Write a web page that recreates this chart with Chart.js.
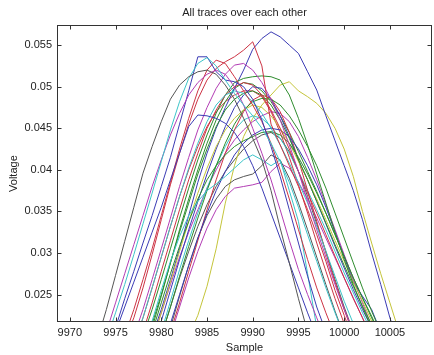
<!DOCTYPE html>
<html>
<head>
<meta charset="utf-8">
<script src="https://cdn.jsdelivr.net/npm/chart.js@4.4.1/dist/chart.umd.min.js"></script>
<style>
  body { margin: 0; background: #fff; }
</style>
</head>
<body>
<canvas id="myChart" width="434" height="355"></canvas>
<script>
// tick positions
const xTicks = [9970, 9975, 9980, 9985, 9990, 9995, 10000, 10005];
const yTicks = [0.025, 0.03, 0.035, 0.04, 0.045, 0.05, 0.055];

// traces, one value per sample, starting at the sample in traceStarts
const k1 = [0.0195, 0.0232, 0.0273, 0.0314, 0.0355, 0.0396, 0.0428, 0.0458, 0.0485, 0.0502, 0.0512, 0.0518, 0.0520, 0.0515, 0.0502, 0.0485, 0.0462, 0.0438, 0.0412, 0.0375, 0.0330, 0.0288, 0.0245, 0.0205];
const c1 = [0.0195, 0.0228, 0.0262, 0.0298, 0.0335, 0.0372, 0.0410, 0.0448, 0.0482, 0.0510, 0.0528, 0.0535, 0.0525, 0.0508, 0.0492, 0.0478, 0.0465, 0.0450, 0.0432, 0.0410, 0.0385, 0.0355, 0.0322, 0.0290, 0.0258, 0.0228, 0.0200];
const m1 = [0.0205, 0.0240, 0.0275, 0.0310, 0.0345, 0.0380, 0.0412, 0.0442, 0.0468, 0.0490, 0.0505, 0.0515, 0.0520, 0.0515, 0.0500, 0.0478, 0.0450, 0.0420, 0.0388, 0.0352, 0.0315, 0.0280, 0.0250, 0.0222, 0.0195];
const b1 = [0.0210, 0.0245, 0.0278, 0.0312, 0.0345, 0.0380, 0.0415, 0.0455, 0.0495, 0.0536, 0.0536, 0.0518, 0.0508, 0.0506, 0.0500, 0.0485, 0.0460, 0.0428, 0.0392, 0.0352, 0.0312, 0.0272, 0.0235, 0.0205];
const b2 = [0.0205, 0.0235, 0.0265, 0.0295, 0.0325, 0.0355, 0.0388, 0.0420, 0.0452, 0.0466, 0.0465, 0.0462, 0.0456, 0.0445, 0.0428, 0.0405, 0.0378, 0.0348, 0.0318, 0.0288, 0.0258, 0.0228, 0.0200];
const r1 = [0.0200, 0.0232, 0.0268, 0.0305, 0.0345, 0.0385, 0.0425, 0.0462, 0.0495, 0.0520, 0.0532, 0.0528, 0.0512, 0.0495, 0.0478, 0.0458, 0.0432, 0.0400, 0.0365, 0.0328, 0.0292, 0.0258, 0.0228, 0.0200];
const r2 = [0.0195, 0.0222, 0.0258, 0.0298, 0.0340, 0.0382, 0.0420, 0.0455, 0.0485, 0.0508, 0.0522, 0.0530, 0.0536, 0.0544, 0.0554, 0.0525, 0.0455, 0.0430, 0.0405, 0.0380, 0.0352, 0.0322, 0.0290, 0.0255, 0.0225, 0.0195];
const m2 = [0.0200, 0.0232, 0.0268, 0.0305, 0.0342, 0.0380, 0.0415, 0.0448, 0.0475, 0.0498, 0.0515, 0.0526, 0.0528, 0.0520, 0.0505, 0.0485, 0.0460, 0.0430, 0.0398, 0.0362, 0.0328, 0.0295, 0.0262, 0.0232, 0.0205];
const c2 = [0.0190, 0.0222, 0.0258, 0.0295, 0.0332, 0.0368, 0.0402, 0.0432, 0.0458, 0.0478, 0.0490, 0.0495, 0.0492, 0.0482, 0.0468, 0.0450, 0.0430, 0.0408, 0.0385, 0.0360, 0.0332, 0.0302, 0.0272, 0.0242, 0.0215, 0.0190];
const r3 = [0.0205, 0.0240, 0.0278, 0.0315, 0.0352, 0.0388, 0.0420, 0.0450, 0.0472, 0.0490, 0.0500, 0.0505, 0.0502, 0.0490, 0.0472, 0.0450, 0.0425, 0.0398, 0.0372, 0.0348, 0.0322, 0.0296, 0.0270, 0.0245, 0.0222, 0.0198];
const g1 = [0.0200, 0.0232, 0.0268, 0.0305, 0.0342, 0.0378, 0.0412, 0.0442, 0.0468, 0.0490, 0.0505, 0.0510, 0.0512, 0.0513, 0.0512, 0.0508, 0.0490, 0.0462, 0.0430, 0.0395, 0.0360, 0.0325, 0.0292, 0.0262, 0.0235, 0.0210, 0.0190];
const c3 = [0.0218, 0.0255, 0.0290, 0.0320, 0.0345, 0.0362, 0.0375, 0.0383, 0.0392, 0.0402, 0.0412, 0.0418, 0.0412, 0.0405, 0.0412, 0.0375, 0.0338, 0.0275, 0.0210];
const g2 = [0.0215, 0.0250, 0.0288, 0.0325, 0.0360, 0.0395, 0.0425, 0.0452, 0.0472, 0.0485, 0.0492, 0.0495, 0.0490, 0.0478, 0.0460, 0.0438, 0.0412, 0.0388, 0.0362, 0.0336, 0.0310, 0.0285, 0.0260, 0.0236, 0.0214, 0.0192];
const g3 = [0.0205, 0.0240, 0.0275, 0.0308, 0.0338, 0.0365, 0.0388, 0.0405, 0.0418, 0.0428, 0.0435, 0.0440, 0.0445, 0.0446, 0.0442, 0.0432, 0.0415, 0.0395, 0.0372, 0.0348, 0.0322, 0.0296, 0.0270, 0.0246, 0.0224, 0.0200];
const y2 = [0.0195, 0.0228, 0.0265, 0.0302, 0.0338, 0.0372, 0.0402, 0.0428, 0.0448, 0.0462, 0.0472, 0.0478, 0.0475, 0.0465, 0.0450, 0.0432, 0.0410, 0.0388, 0.0365, 0.0340, 0.0315, 0.0290, 0.0265, 0.0242, 0.0218, 0.0195];
const b3 = [0.0200, 0.0232, 0.0268, 0.0305, 0.0345, 0.0385, 0.0420, 0.0450, 0.0475, 0.0498, 0.0520, 0.0545, 0.0558, 0.0566, 0.0560, 0.0550, 0.0540, 0.0518, 0.0496, 0.0465, 0.0435, 0.0405, 0.0375, 0.0340, 0.0300, 0.0262, 0.0222, 0.0190];
const b4 = [0.0218, 0.0255, 0.0292, 0.0328, 0.0362, 0.0395, 0.0425, 0.0452, 0.0475, 0.0490, 0.0500, 0.0498, 0.0485, 0.0465, 0.0440, 0.0412, 0.0388, 0.0362, 0.0335, 0.0308, 0.0282, 0.0256, 0.0232, 0.0210, 0.0190];
const g4 = [0.0200, 0.0235, 0.0272, 0.0308, 0.0342, 0.0375, 0.0405, 0.0432, 0.0455, 0.0472, 0.0482, 0.0486, 0.0485, 0.0478, 0.0465, 0.0448, 0.0428, 0.0405, 0.0378, 0.0348, 0.0318, 0.0288, 0.0258, 0.0230, 0.0205];
const b5 = [0.0215, 0.0250, 0.0285, 0.0318, 0.0348, 0.0375, 0.0398, 0.0418, 0.0432, 0.0442, 0.0448, 0.0450, 0.0448, 0.0440, 0.0425, 0.0405, 0.0382, 0.0355, 0.0325, 0.0295, 0.0265, 0.0248, 0.0232, 0.0205];
const r4 = [0.0205, 0.0240, 0.0278, 0.0315, 0.0352, 0.0388, 0.0420, 0.0448, 0.0470, 0.0484, 0.0490, 0.0486, 0.0470, 0.0445, 0.0412, 0.0375, 0.0338, 0.0300, 0.0265, 0.0232, 0.0202];
const k2 = [0.0210, 0.0248, 0.0285, 0.0318, 0.0345, 0.0365, 0.0380, 0.0388, 0.0392, 0.0395, 0.0405, 0.0418, 0.0412, 0.0390, 0.0360, 0.0328, 0.0295, 0.0262, 0.0230, 0.0200];
const m3 = [0.0200, 0.0235, 0.0270, 0.0302, 0.0330, 0.0352, 0.0368, 0.0378, 0.0380, 0.0382, 0.0385, 0.0398, 0.0408, 0.0402, 0.0385, 0.0365, 0.0342, 0.0318, 0.0294, 0.0270, 0.0246, 0.0222, 0.0198];
const y1 = [0.0200, 0.0225, 0.0260, 0.0305, 0.0360, 0.0405, 0.0440, 0.0462, 0.0478, 0.0490, 0.0502, 0.0506, 0.0495, 0.0488, 0.0480, 0.0468, 0.0450, 0.0425, 0.0392, 0.0350, 0.0312, 0.0275, 0.0240, 0.0205];
const c4 = [0.0205, 0.0242, 0.0280, 0.0315, 0.0348, 0.0378, 0.0405, 0.0428, 0.0448, 0.0460, 0.0465, 0.0462, 0.0452, 0.0438, 0.0420, 0.0398, 0.0375, 0.0352, 0.0328, 0.0302, 0.0276, 0.0252, 0.0228, 0.0205];
const m4 = [0.0195, 0.0228, 0.0262, 0.0295, 0.0325, 0.0352, 0.0378, 0.0400, 0.0420, 0.0436, 0.0448, 0.0458, 0.0465, 0.0470, 0.0468, 0.0458, 0.0440, 0.0415, 0.0388, 0.0358, 0.0328, 0.0298, 0.0268, 0.0240, 0.0212];
const k3 = [0.0200, 0.0235, 0.0270, 0.0302, 0.0332, 0.0358, 0.0380, 0.0398, 0.0412, 0.0425, 0.0435, 0.0442, 0.0445, 0.0438, 0.0422, 0.0398, 0.0368, 0.0335, 0.0302, 0.0268, 0.0235, 0.0205];
const g5 = [0.0210, 0.0248, 0.0288, 0.0328, 0.0365, 0.0400, 0.0432, 0.0460, 0.0482, 0.0498, 0.0505, 0.0503, 0.0495, 0.0482, 0.0465, 0.0445, 0.0422, 0.0398, 0.0374, 0.0348, 0.0322, 0.0296, 0.0270, 0.0246, 0.0222, 0.0198];
const r5 = [0.0190, 0.0222, 0.0258, 0.0295, 0.0332, 0.0368, 0.0400, 0.0428, 0.0452, 0.0470, 0.0482, 0.0490, 0.0495, 0.0495, 0.0488, 0.0470, 0.0445, 0.0415, 0.0382, 0.0348, 0.0312, 0.0278, 0.0245, 0.0215, 0.0190];

const traceValues = [k1, c1, m1, b1, b2, r1, r2, m2, c2, r3, g1, c3, g2, g3, y2, b3, b4, g4, b5, r4, k2, m3, y1, c4, m4, k3, g5, r5];
const traceStarts = [9973, 9974, 9974, 9975, 9975, 9976, 9976, 9977, 9977, 9978, 9978, 9979, 9979, 9979, 9979, 9979, 9980, 9980, 9981, 9981, 9981, 9981, 9983, 9980, 9979, 9980, 9979, 9977];

// matlab-ish line colours (slightly washed out like the jpeg)
const BLUE = "#3b3bb4", GREEN = "#2e8c2e", RED = "#cc3344", CYAN = "#3cc4c8",
      MAGENTA = "#b23cb4", YELLOW = "#c4c43a", GRAY = "#555555";
const traceColors = [GRAY, CYAN, MAGENTA, BLUE, BLUE, RED, RED, MAGENTA, CYAN, RED, GREEN, CYAN, GREEN, GREEN,
  YELLOW, BLUE, BLUE, GREEN, BLUE, RED, GRAY, MAGENTA, YELLOW, CYAN, MAGENTA, GRAY, GREEN, RED];

const FONT = "'Liberation Sans', Arial, sans-serif";
const TEXT = "#222";

// box around the axes with inward ticks on all four sides
const boxTicks = {
  id: "boxTicks",
  afterDraw(chart) {
    const { ctx, chartArea: a, scales: { x, y } } = chart;
    const L = Math.round(a.left) + 0.5, R = Math.round(a.right) - 0.5;
    const T = Math.round(a.top) + 0.5, B = Math.round(a.bottom) - 0.5;
    ctx.save();
    ctx.strokeStyle = "#333";
    ctx.lineWidth = 1;
    ctx.strokeRect(L, T, R - L, B - T);
    ctx.beginPath();
    xTicks.forEach(v => {
      const px = Math.round(x.getPixelForValue(v)) + 0.5;
      ctx.moveTo(px, B); ctx.lineTo(px, B - 4);
      ctx.moveTo(px, T); ctx.lineTo(px, T + 4);
    });
    yTicks.forEach(v => {
      const py = Math.round(y.getPixelForValue(v)) + 0.5;
      ctx.moveTo(L, py); ctx.lineTo(L + 4, py);
      ctx.moveTo(R, py); ctx.lineTo(R - 4, py);
    });
    ctx.stroke();
    ctx.restore();
  }
};

const datasets = traceValues.map((vals, i) => ({
  data: vals.map((v, j) => ({ x: traceStarts[i] + j, y: v })),
  borderColor: traceColors[i],
  borderWidth: 1,
  pointRadius: 0,
  fill: false,
  tension: 0
}));

let ctx = document.getElementById("myChart");
let myChart = new Chart(ctx, {
  type: "line",
  data: { datasets },
  options: {
    responsive: false,
    animation: false,
    layout: { padding: { left: 0, right: 2, top: 0, bottom: 0 } },
    plugins: {
      legend: { display: false },
      tooltip: { enabled: false },
      title: {
        display: true,
        text: "All traces over each other",
        fullSize: false,
        color: TEXT,
        font: { family: FONT, size: 11, weight: "normal" },
        padding: { top: 6, bottom: 6 }
      }
    },
    scales: {
      x: {
        type: "linear",
        min: 9968.6,
        max: 10009.6,
        afterBuildTicks: s => { s.ticks = xTicks.map(v => ({ value: v })); },
        afterFit: s => { s.height = 33; },
        grid: { display: false, drawTicks: false },
        border: { display: false },
        ticks: { color: TEXT, font: { family: FONT, size: 11 }, padding: 4, maxRotation: 0, callback: v => String(v) },
        title: { display: true, text: "Sample", color: TEXT, font: { family: FONT, size: 11 }, padding: { top: 0, bottom: 0 } }
      },
      y: {
        min: 0.0217,
        max: 0.0574,
        afterBuildTicks: s => { s.ticks = yTicks.map(v => ({ value: v })); },
        afterFit: s => { s.width = 57; },
        grid: { display: false, drawTicks: false },
        border: { display: false },
        ticks: { color: TEXT, font: { family: FONT, size: 11 }, padding: 5, callback: v => String(v) },
        title: { display: true, text: "Voltage", color: TEXT, font: { family: FONT, size: 11 }, padding: { top: 7, bottom: 0 } }
      }
    }
  },
  plugins: [boxTicks]
});
</script>
</body>
</html>
